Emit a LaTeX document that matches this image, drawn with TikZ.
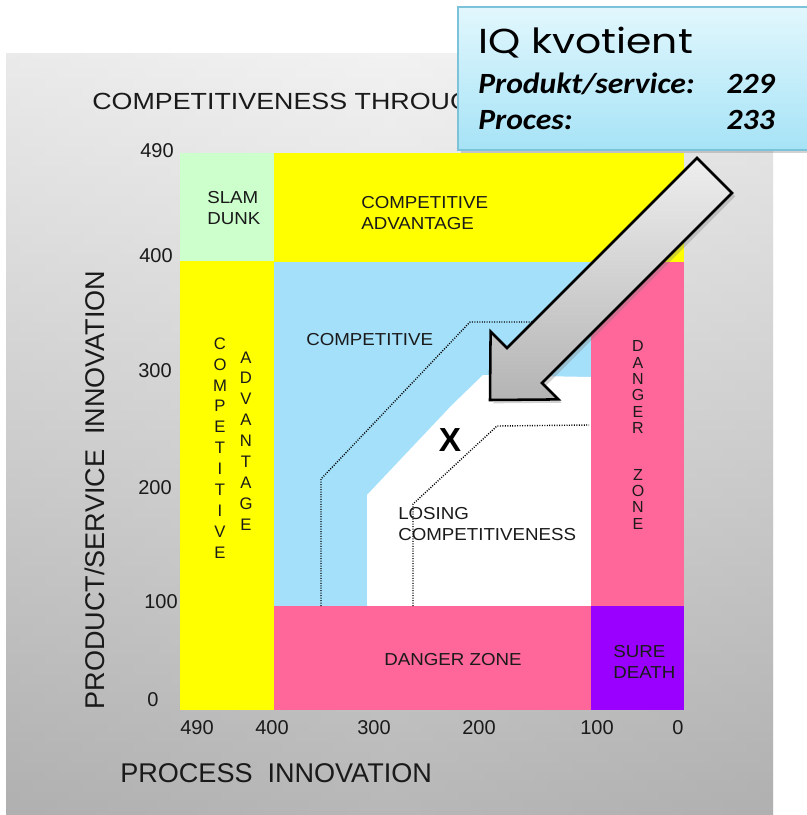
\documentclass[tikz,border=0pt]{standalone}
\usepackage{fontspec}
\setmainfont{Liberation Sans}
\newfontfamily\fWide[FakeStretch=1.08]{Liberation Sans}
\newfontfamily\fTitle[FakeStretch=1.15]{Liberation Sans}
\newfontfamily\fCal[FakeStretch=1.08]{Carlito}
\newfontfamily\fGeo[FakeStretch=1.18]{Poppins}
\usetikzlibrary{shadows}
\definecolor{slam}{HTML}{CCFFCC}
\definecolor{yel}{HTML}{FFFF00}
\definecolor{sky}{HTML}{A4E0FA}
\definecolor{rose}{HTML}{FF6699}
\definecolor{violet}{HTML}{9900FF}
\definecolor{bgtop}{HTML}{EEEEEE}
\definecolor{bgbot}{HTML}{A0A0A0}
\definecolor{boxtop}{HTML}{E2F7FD}
\definecolor{boxbot}{HTML}{A6E3F6}
\definecolor{boxline}{HTML}{7CC3DA}
\definecolor{arrtop}{HTML}{EEEEEE}
\definecolor{arrbot}{HTML}{B4B4B4}
\definecolor{ink}{HTML}{1A1A1A}
\begin{document}
\begin{tikzpicture}[x=0.75pt,y=-0.75pt,
  lbl/.style={font=\fWide\fontsize{13}{16}\selectfont, text=ink, inner sep=0pt, align=left},
  vlbl/.style={font=\fontsize{12.5}{15.7}\selectfont, text=ink, inner sep=0pt, align=center},
  tick/.style={font=\fontsize{15}{18}\selectfont, text=ink, inner sep=0pt},
  axislbl/.style={font=\fontsize{20.3}{24}\selectfont, text=ink, inner sep=0pt},
  dotline/.style={draw=black, line width=1.05pt, dash pattern=on 0.75pt off 1.1pt},
  boxtxt/.style={font=\fCal\bfseries\itshape\fontsize{22}{26}\selectfont, text=black, inner sep=0pt}
]
\useasboundingbox (0,0) rectangle (807,815);
\fill[white] (0,0) rectangle (807,815);
% background panel
\shade[top color=bgtop, bottom color=bgbot] (6,53) rectangle (773,815);
\shade[left color=black!12, right color=black!12, middle color=white, opacity=0.25] (6,53) rectangle (773,815);

% title (partly hidden by the box)
\node[font=\fTitle\fontsize{17.5}{20}\selectfont, text=ink, inner sep=0pt, anchor=base west] (title) at (92,109) {COMPETITIVENESS THROUG};

% regions
\fill[slam] (180,153) rectangle (274,261);
\fill[yel] (274,153) rectangle (684,262);
\fill[yel] (180,261) rectangle (274,710);
\fill[sky] (274,262) rectangle (591,606);
\fill[white] (367,606) -- (367,495) -- (452,405) -- (483,375) -- (591,377) -- (591,606) -- cycle;
\fill[rose] (591,262) rectangle (684,606);
\fill[rose] (274,606) rectangle (591,710);
\fill[violet] (591,606) rectangle (684,710);

% dotted boundaries
\draw[dotline] (321,606) -- (321,479) -- (470,322) -- (540,322);
\draw[dotline] (413,606) -- (413,504) -- (497,426) -- (589,425);

% region labels
\node[lbl, anchor=west] (slamdunk) at (207,208) {SLAM\\DUNK};
\node[lbl, anchor=west] (topadv) at (361,213) {COMPETITIVE\\ADVANTAGE};
\node[lbl, anchor=west] (comp) at (306,340) {COMPETITIVE};
\node[lbl, anchor=west] (losing) at (398,524) {LOSING\\COMPETITIVENESS};
\node[lbl, anchor=center] (dzone) at (453,660) {DANGER ZONE};
\node[lbl, anchor=west] (sure) at (613,662) {SURE\\DEATH};
\node[font=\bfseries\fontsize{25}{30}\selectfont, text=black, inner sep=0pt] (xmark) at (450,440) {X};

\node[vlbl, font=\fontsize{12.5}{15.7}\selectfont] (vcomp) at (220,448) {C\\O\\M\\P\\E\\T\\I\\T\\I\\V\\E};
\node[vlbl, font=\fontsize{12.5}{15.7}\selectfont] (vadv) at (246,441) {A\\D\\V\\A\\N\\T\\A\\G\\E};
\node[vlbl, font=\fontsize{12}{12.2}\selectfont] (vdanger) at (638,435) {D\\A\\N\\G\\E\\R\\[23pt]Z\\O\\N\\E};

% ticks
\node[tick] (y490) at (157,151) {490};
\node[tick] (y400) at (156,256) {400};
\node[tick] (y300) at (155,371) {300};
\node[tick] (y200) at (155,488) {200};
\node[tick] (y100) at (161,602) {100};
\node[tick] (y0) at (153,700) {0};
\node[tick] (x490) at (197,728) {490};
\node[tick] (x400) at (272,728) {400};
\node[tick] (x300) at (374,728) {300};
\node[tick] (x200) at (479,728) {200};
\node[tick] (x100) at (597,728) {100};
\node[tick] (x0) at (678,728) {0};

% axis titles
\node[axislbl, rotate=90] (ylab) at (95,490) {PRODUCT/SERVICE\hspace{0.55em}INNOVATION};
\node[axislbl, anchor=west] (xlab) at (120,773) {PROCESS\hspace{0.55em}INNOVATION};

% big arrow
\path[draw=black, line width=1.9pt, line join=miter, top color=arrtop, bottom color=arrbot,
  drop shadow={shadow xshift=2.5pt, shadow yshift=-2.5pt, opacity=0.35}]
  (697,158) -- (507,348) -- (490.6,331.6) -- (490,400) -- (558.4,399.4) -- (542,383) -- (732,193) -- cycle;

% IQ box
\path[draw=boxline, line width=1.2pt, top color=boxtop, bottom color=boxbot,
  drop shadow={shadow xshift=2pt, shadow yshift=-2.5pt, opacity=0.35}]
  (458,7) rectangle (815,150);
\node[font=\fGeo\fontsize{26}{30}\selectfont, text=black, inner sep=0pt, anchor=base west] (iq) at (478,53) {IQ kvotient};
\node[boxtxt, anchor=base west] (prodlbl) at (478,93) {Produkt/service:};
\node[boxtxt, anchor=base east] (prodval) at (775,93) {229};
\node[boxtxt, anchor=base west] (proclbl) at (478,129) {Proces:};
\node[boxtxt, anchor=base east] (procval) at (775,129) {233};
\end{tikzpicture}
\end{document}
